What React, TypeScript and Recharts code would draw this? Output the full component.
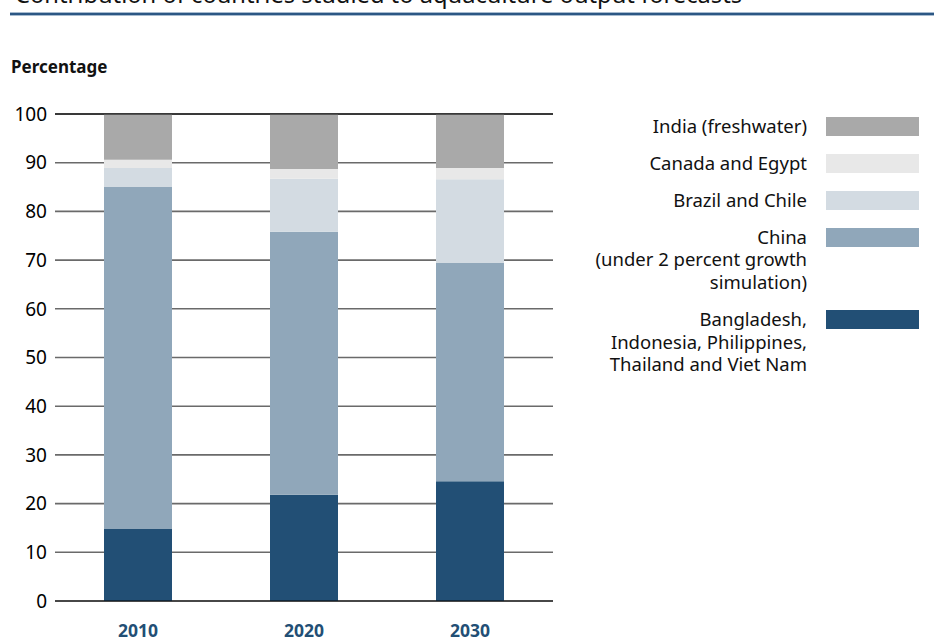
import React from "react";
import { BarChart, Bar, XAxis, YAxis, CartesianGrid, ReferenceLine } from "recharts";

const YEARS = ["2010", "2020", "2030"];
// percentage shares, bottom of stack first
const ASIA = [14.8, 21.8, 24.6];
const CHINA = [70.2, 54.0, 44.8];
const BRAZIL_CHILE = [3.9, 10.9, 17.2];
const CANADA_EGYPT = [1.7, 2.0, 2.3];
const INDIA = [9.4, 11.3, 11.1];
const Y_TICKS = [0, 10, 20, 30, 40, 50, 60, 70, 80, 90, 100];

const SERIES = [
  { key: "asia", values: ASIA, color: "#224f75", label: ["Bangladesh,", "Indonesia, Philippines,", "Thailand and Viet Nam"] },
  { key: "china", values: CHINA, color: "#90a7ba", label: ["China", "(under 2 percent growth", "simulation)"] },
  { key: "brazil", values: BRAZIL_CHILE, color: "#d3dbe2", label: ["Brazil and Chile"] },
  { key: "canada", values: CANADA_EGYPT, color: "#e8e8e8", label: ["Canada and Egypt"] },
  { key: "india", values: INDIA, color: "#a9a9a9", label: ["India (freshwater)"] },
];

const data = YEARS.map((year, i) => {
  const row: Record<string, string | number> = { year };
  SERIES.forEach((s) => (row[s.key] = s.values[i]));
  return row;
});

const FONT = "'Noto Sans', 'Open Sans', sans-serif";

function LegendBlock() {
  // legend lists top of stack first
  const items = [...SERIES].reverse();
  return (
    <div style={{ position: "absolute", left: 570, top: 114.5, width: 349 }}>
      {items.map((s) => (
        <div key={s.key} style={{ display: "flex", marginBottom: 14.3 }}>
          <div style={{ width: 237, textAlign: "right", fontSize: 18.5, lineHeight: "22.7px", color: "#111" }}>
            {s.label.map((l) => (
              <div key={l} style={{ whiteSpace: "nowrap" }}>{l}</div>
            ))}
          </div>
          <div style={{ width: 93, height: 19, marginLeft: 19, marginTop: 2.5, background: s.color }} />
        </div>
      ))}
    </div>
  );
}

export default function App() {
  return (
    <div
      style={{
        position: "absolute",
        left: 0,
        top: 0,
        width: 934,
        height: 639,
        overflow: "hidden",
        background: "#fff",
        fontFamily: FONT,
      }}
    >
      <div style={{ position: "absolute", left: 15, top: -17, fontSize: 23.7, lineHeight: 1, color: "#111", whiteSpace: "nowrap" }}>
        Contribution of countries studied to aquaculture output forecasts
      </div>
      <div
        style={{
          position: "absolute",
          left: 10,
          top: 12,
          width: 924,
          height: 2,
          background: "#2c5784",
          borderTop: "1px solid #a7bbcf",
          borderBottom: "1px solid #a7bbcf",
        }}
      />
      <div style={{ position: "absolute", left: 11, top: 57.9, fontSize: 17, fontWeight: 700, lineHeight: 1, color: "#111" }}>
        Percentage
      </div>

      <BarChart
        width={934}
        height={639}
        data={data}
        margin={{ top: 114, right: 381, bottom: 8, left: 0 }}
        style={{ position: "absolute", left: 0, top: 0 }}
      >
        <CartesianGrid vertical={false} stroke="#6a6a6a" strokeWidth={1.6} />
        <XAxis
          dataKey="year"
          height={30}
          axisLine={false}
          tickLine={false}
          tickMargin={18}
          tick={{ fontSize: 17.5, fontWeight: 700, fill: "#224f75", fontFamily: FONT }}
        />
        <YAxis
          width={55}
          domain={[0, 100]}
          ticks={Y_TICKS}
          interval={0}
          axisLine={false}
          tickLine={false}
          tick={{ fontSize: 19, fill: "#000", fontFamily: FONT }}
        />
        {SERIES.map((s) => (
          <Bar key={s.key} dataKey={s.key} stackId="a" fill={s.color} barSize={68} isAnimationActive={false} />
        ))}
        <ReferenceLine y={100} stroke="#000" strokeWidth={1.2} />
        <ReferenceLine y={0} stroke="#000" strokeWidth={1.2} />
      </BarChart>

      <LegendBlock />
    </div>
  );
}
